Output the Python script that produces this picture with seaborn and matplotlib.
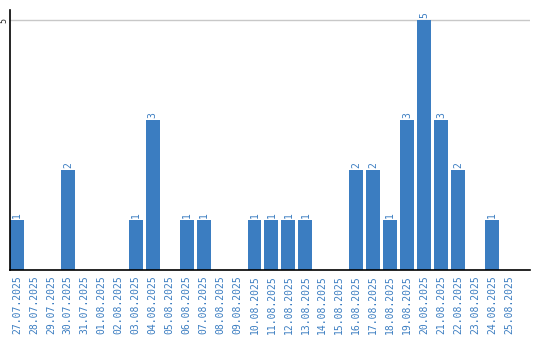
import matplotlib
matplotlib.use("Agg")
import matplotlib.pyplot as plt
import seaborn as sns
import pandas as pd

dates = ["27.07.2025", "28.07.2025", "29.07.2025", "30.07.2025", "31.07.2025",
         "01.08.2025", "02.08.2025", "03.08.2025", "04.08.2025", "05.08.2025",
         "06.08.2025", "07.08.2025", "08.08.2025", "09.08.2025", "10.08.2025",
         "11.08.2025", "12.08.2025", "13.08.2025", "14.08.2025", "15.08.2025",
         "16.08.2025", "17.08.2025", "18.08.2025", "19.08.2025", "20.08.2025",
         "21.08.2025", "22.08.2025", "23.08.2025", "24.08.2025", "25.08.2025"]
counts = [1, 0, 0, 2, 0, 0, 0, 1, 3, 0, 1, 1, 0, 0, 1, 1, 1, 1, 0, 0,
          2, 2, 1, 3, 5, 3, 2, 0, 1, 0]
yticks = [5]

BLUE = "#3b7dc1"
sns.set_style("white")
plt.rcParams['font.family'] = ['DejaVu Sans Mono', 'DejaVu Sans']

df = pd.DataFrame({"date": dates, "count": counts})
fig = plt.figure(figsize=(5.4, 3.4), dpi=100)
ax = fig.add_axes([10/540, 70/340, 520/540, 260/340])
sns.barplot(data=df, x="date", y="count", color=BLUE, saturation=1, width=0.82, ax=ax)
for p in ax.patches:
    p.set_edgecolor("none")

for i, v in enumerate(counts):
    if v > 0:
        ax.text(i, v + 0.04, str(v), rotation=90, ha="center", va="bottom",
                fontsize=7, color=BLUE)

ax.set_ylim(0, 5.2)
ax.set_xlim(-0.41, 30.24)
ax.set_yticks(yticks)
ax.set_yticklabels([str(t) for t in yticks], rotation=90, va="center", fontsize=6)
ax.yaxis.grid(True, color="#c8c8c8", linewidth=1)
ax.set_axisbelow(True)
ax.tick_params(axis="y", length=0, pad=1, labelcolor="#222222")
ax.tick_params(axis="x", length=0, pad=4, labelcolor=BLUE, labelsize=7)
plt.setp(ax.get_xticklabels(), rotation=90)
ax.set_xlabel("")
ax.set_ylabel("")
for s in ["top", "right"]:
    ax.spines[s].set_visible(False)
for s in ["left", "bottom"]:
    ax.spines[s].set_color("black")
    ax.spines[s].set_linewidth(1.2)

fig.savefig("out.png", dpi=100)
